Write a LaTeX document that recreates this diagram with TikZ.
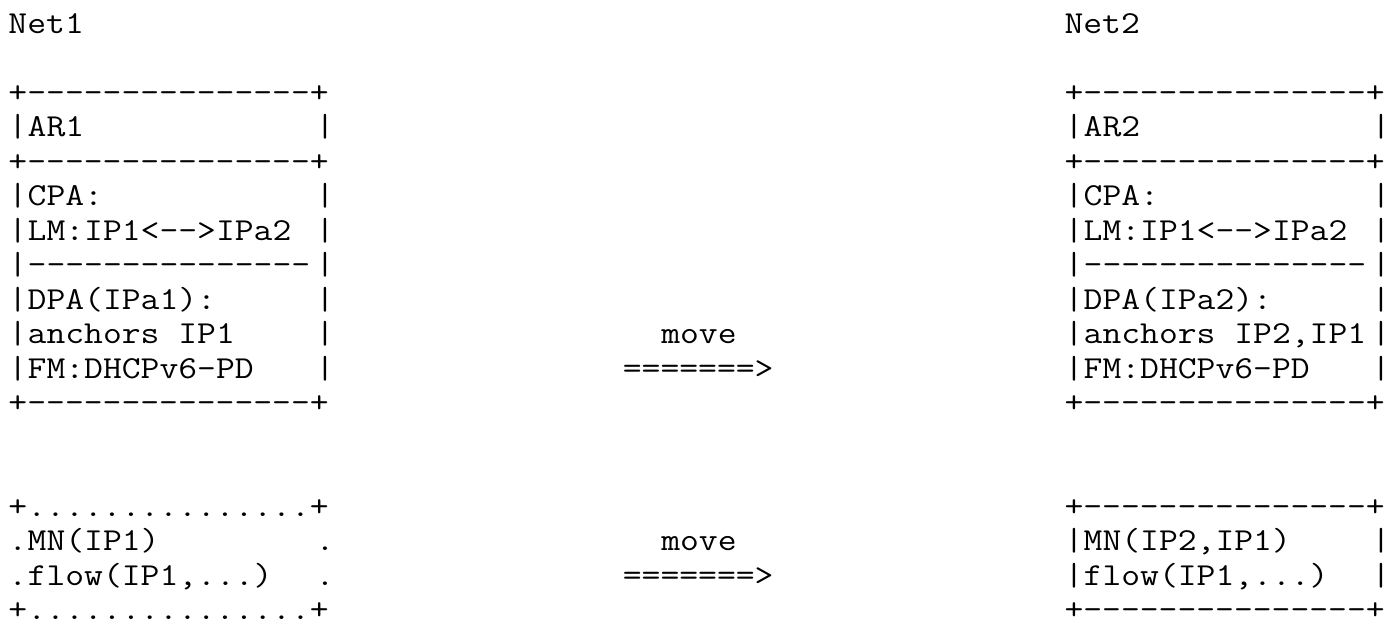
\documentclass[tikz,border=0pt]{standalone}
\usepackage{fontspec}
\setmonofont{Latin Modern Mono}[FakeStretch=1.1429]
\usepackage{tikz}

\tikzset{
  txt/.style={font=\ttfamily\fontsize{16}{17.25}\selectfont, anchor=base west, inner sep=0pt, outer sep=0pt},
}

\begin{document}
\begin{tikzpicture}[x=9.6pt, y=17.25pt]
		% frame of the picture (row 0 baseline at y=0)
		\useasboundingbox (-4.25pt,16.5pt) rectangle (689.75pt,-294.5pt);

		% network names
		\node[txt] (net1) at (0,0) {Net1};
		\node[txt] (net2) at (55,0) {Net2};

		% Router boxes: rules and sides
		\foreach \r in {2,4,11} {
				\node[txt] (lrule\r) at (0,-\r) {+---------------+};
				\node[txt] (rrule\r) at (55,-\r) {+---------------+};
			}
		\foreach \r in {3,5,6,7,8,9,10} {
				\node[txt] (lside\r) at (0,-\r) {|};
				\node[txt] (lend\r) at (16,-\r) {|};
				\node[txt] (rside\r) at (55,-\r) {|};
				\node[txt] (rend\r) at (71,-\r) {|};
			}

		% AR1 contents
		\foreach \r/\t in {3/AR1, 5/CPA:, 6/LM:IP1<-->IPa2, 7/---------------, 8/DPA(IPa1):, 9/anchors IP1, 10/FM:DHCPv6-PD} {
				\node[txt] (ar1l\r) at (1,-\r) {\t};
			}
		% AR2 contents
		\foreach \r/\t in {3/AR2, 5/CPA:, 6/LM:IP1<-->IPa2, 7/---------------, 8/DPA(IPa2):, 9/{anchors IP2,IP1}, 10/FM:DHCPv6-PD} {
				\node[txt] (ar2l\r) at (56,-\r) {\t};
			}

		% MN boxes (dotted one in Net1, solid one in Net2)
		\foreach \r in {14,17} {
				\node[txt] (mn1rule\r) at (0,-\r) {+...............+};
				\node[txt] (mn2rule\r) at (55,-\r) {+---------------+};
			}
		\foreach \r/\t/\s in {15/MN(IP1)/{MN(IP2,IP1)}, 16/{flow(IP1,...)}/{flow(IP1,...)}} {
				\node[txt] (mn1side\r) at (0,-\r) {.};
				\node[txt] (mn1l\r) at (1,-\r) {\t};
				\node[txt] (mn1end\r) at (16,-\r) {.};
				\node[txt] (mn2side\r) at (55,-\r) {|};
				\node[txt] (mn2l\r) at (56,-\r) {\s};
				\node[txt] (mn2end\r) at (71,-\r) {|};
			}

		% move arrows
		\foreach \r in {9,15} {
				\node[txt] (move\r) at (34,-\r) {move};
				\node[txt] (arrow\r) at (32,-\r-1) {=======>};
			}
	\end{tikzpicture}
\end{document}
